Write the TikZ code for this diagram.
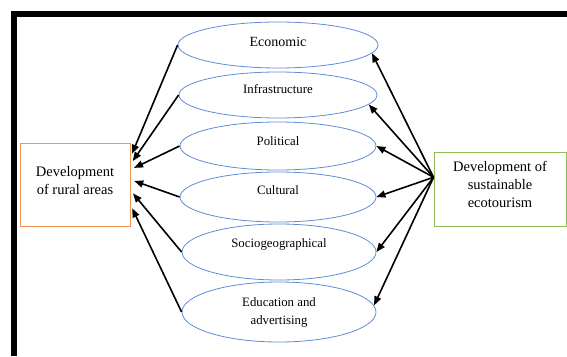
\documentclass[tikz,border=0pt]{standalone}
\usepackage{fontspec}
\setmainfont{Liberation Serif}
\usetikzlibrary{shapes.geometric,arrows.meta}
\definecolor{ellblue}{RGB}{95,140,215}
\definecolor{ruralorange}{RGB}{240,150,90}
\definecolor{ecogreen}{RGB}{140,190,90}

\begin{document}
\begin{tikzpicture}[x=1pt,y=-1pt,
  factor/.style={ellipse,draw=ellblue,line width=0.8pt,inner sep=0pt,
    minimum width=196pt,align=center,font=\fontsize{12.8}{18}\selectfont},
  goal/.style={rectangle,draw,line width=0.9pt,inner sep=0pt,align=center,
    font=\fontsize{14.5}{18}\selectfont},
  link/.style={-{Triangle[length=9pt,width=7pt]},line width=1.6pt}]
\useasboundingbox (0,0) rectangle (567,356);
% outer frame
\draw[line width=6pt] (14,356) -- (14,14) -- (567,14);
% factors
\node[factor,minimum width=200pt,minimum height=46pt,text depth=6pt,
  font=\fontsize{14}{16}\selectfont] (econ) at (278,45) {Economic};
\node[factor,minimum width=198pt,minimum height=46pt,text depth=12pt] (infra) at (278,95) {Infrastructure};
\node[factor,minimum height=48pt,text depth=10pt] (pol) at (278,146) {Political};
\node[factor,minimum height=50pt,text depth=14pt] (cult) at (278,197) {Cultural};
\node[factor,minimum width=194pt,minimum height=56pt,text depth=18pt] (socio) at (279,252) {Sociogeographical};
\node[factor,minimum width=194pt,minimum height=60pt] (edu) at (279,312) {Education and\\advertising};
% the two outcomes
\node[goal,draw=ruralorange,minimum width=110pt,minimum height=83pt,text depth=9pt] (rural) at (75,184.5) {Development\\of rural areas};
\node[goal,draw=ecogreen,minimum width=132pt,minimum height=74pt,text depth=10pt] (eco) at (500,189) {Development of\\sustainable\\ecotourism};
% arrows
\foreach \f/\a in {econ/26,infra/20,pol/15,cult/5,socio/-6,edu/-20}
  \draw[link,shorten >=4pt] (\f.west) -- (rural.\a);
\foreach \f/\a in {econ/-5,infra/-6,pol/0,cult/0,socio/0,edu/4}
  \draw[link] (eco.170) -- (\f.\a);
\end{tikzpicture}
\end{document}
